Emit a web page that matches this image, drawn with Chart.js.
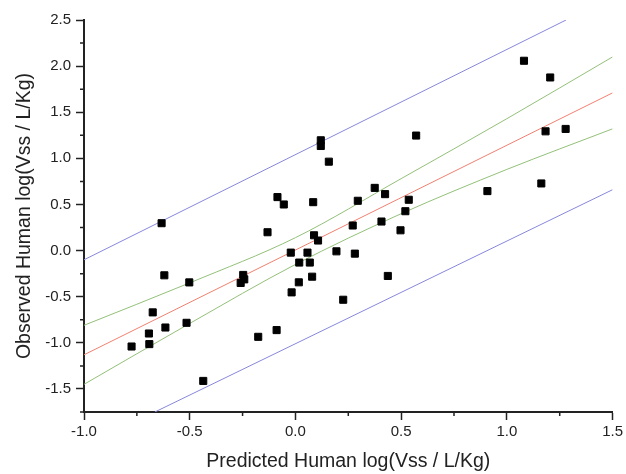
<!DOCTYPE html>
<html>
<head>
<meta charset="utf-8">
<script src="https://cdn.jsdelivr.net/npm/chart.js@4/dist/chart.umd.min.js"></script>
<style>
  html, body { margin: 0; padding: 0; background: #fff; }
  #wrap { width: 626px; height: 474px; }
</style>
</head>
<body>
<div id="wrap"><canvas id="vssChart"></canvas></div>
<script>
// Predicted vs observed log(Vss)
const predicted = [-0.775, -0.693, -0.691, -0.675, -0.62, -0.615, -0.502, -0.515, -0.436, -0.259,
  -0.247, -0.242, -0.176, -0.089, -0.132, -0.022, -0.018, 0.018, 0.016, 0.057,
  0.068, 0.079, 0.088, 0.107, -0.633, -0.085, -0.055, 0.084, 0.12, 0.12,
  0.158, 0.571, 1.081, 1.205, 1.183, 1.278, 0.908, 1.163, 0.295, 0.375,
  0.424, 0.536, 0.52, 0.271, 0.407, 0.497, 0.194, 0.281, 0.437, 0.226];
const observed = [-1.04, -0.899, -1.014, -0.67, -0.268, -0.834, -0.345, -0.783, -1.413, -0.351,
  -0.264, -0.312, -0.935, -0.862, 0.199, -0.022, -0.453, -0.13, -0.344, -0.022,
  -0.13, -0.283, 0.166, 0.109, 0.297, 0.58, 0.5, 0.525, 1.196, 1.134,
  0.964, 1.247, 2.058, 1.877, 1.293, 1.319, 0.645, 0.728, 0.54, 0.68,
  0.612, 0.551, 0.427, 0.272, 0.315, 0.22, -0.008, -0.033, -0.275, -0.533];

// regression line and prediction limits (end points)
const fitX = [-1.0, 1.5];
const fitY = [-1.13, 1.71];
const upperLimitX = [-1.0, 1.28];
const upperLimitY = [-0.10, 2.5];
const lowerLimitX = [-0.665, 1.5];
const lowerLimitY = [-1.75, 0.66];

// confidence band, read at these x positions
const bandX = [-1.0, -0.5, 0.0, 0.5, 1.0, 1.5];
const bandUpper = [-0.81, -0.35, 0.14, 0.78, 1.43, 2.10];
const bandLower = [-1.45, -0.79, -0.15, 0.40, 0.88, 1.32];

const xTicks = [-1.0, -0.5, 0.0, 0.5, 1.0, 1.5];
const yTicks = [-1.5, -1.0, -0.5, 0.0, 0.5, 1.0, 1.5, 2.0, 2.5];

const toPoints = (xs, ys) => xs.map((x, i) => ({ x: x, y: ys[i] }));
const isMajor = (list, v) => list.some(t => Math.abs(t - v) < 1e-6);

const lineSet = (data, color, smooth) => ({
  data: data,
  showLine: true,
  borderColor: color,
  borderWidth: 1,
  pointRadius: 0,
  fill: false,
  cubicInterpolationMode: smooth ? 'monotone' : 'default'
});

// short minor tick marks between the labelled ones
const minorTicks = {
  id: 'minorTicks',
  afterDraw(chart) {
    const ctx = chart.ctx;
    const xs = chart.scales.x, ys = chart.scales.y;
    ctx.save();
    ctx.strokeStyle = '#222';
    ctx.lineWidth = 1.5;
    ctx.beginPath();
    xs.ticks.forEach(t => {
      if (isMajor(xTicks, t.value)) return;
      const px = xs.getPixelForValue(t.value);
      ctx.moveTo(px, ys.bottom);
      ctx.lineTo(px, ys.bottom + 4);
    });
    ys.ticks.forEach(t => {
      if (isMajor(yTicks, t.value)) return;
      const py = ys.getPixelForValue(t.value);
      ctx.moveTo(xs.left, py);
      ctx.lineTo(xs.left - 4, py);
    });
    ctx.stroke();
    ctx.restore();
  }
};

Chart.defaults.font.family = '"Liberation Sans", Arial, sans-serif';
Chart.defaults.color = '#222';

new Chart(document.getElementById('vssChart'), {
  type: 'scatter',
  data: {
    datasets: [
      {
        data: toPoints(predicted, observed),
        pointStyle: 'rect',
        pointRadius: 5,
        backgroundColor: '#000',
        borderColor: '#000',
        borderWidth: 1
      },
      lineSet(toPoints(fitX, fitY), '#ef8070', false),
      lineSet(toPoints(bandX, bandUpper), '#93c079', true),
      lineSet(toPoints(bandX, bandLower), '#93c079', true),
      lineSet(toPoints(upperLimitX, upperLimitY), '#8787dc', false),
      lineSet(toPoints(lowerLimitX, lowerLimitY), '#8787dc', false)
    ]
  },
  options: {
    responsive: true,
    maintainAspectRatio: false,
    animation: false,
    layout: { padding: { left: 0, right: 13, top: 20, bottom: 0 } },
    plugins: {
      legend: { display: false },
      tooltip: { enabled: false }
    },
    scales: {
      x: {
        type: 'linear',
        min: -1.0,
        max: 1.5,
        afterFit: s => { s.height = 62; },
        border: { display: true, color: '#222', width: 2 },
        grid: {
          drawOnChartArea: false,
          tickLength: 8,
          tickWidth: 1.5,
          tickColor: c => isMajor(xTicks, c.tick.value) ? '#222' : 'rgba(0,0,0,0)'
        },
        ticks: {
          stepSize: 0.25,
          padding: 3,
          maxRotation: 0,
          autoSkip: false,
          font: { size: 15 },
          callback: v => isMajor(xTicks, v) ? v.toFixed(1) : ''
        },
        title: {
          display: true,
          text: 'Predicted Human log(Vss / L/Kg)',
          font: { size: 19.5 },
          padding: { top: 0, bottom: 1 }
        }
      },
      y: {
        type: 'linear',
        min: -1.75,
        max: 2.5,
        afterFit: s => { s.width = 84; },
        border: { display: true, color: '#222', width: 2 },
        grid: {
          drawOnChartArea: false,
          tickLength: 8,
          tickWidth: 1.5,
          tickColor: c => isMajor(yTicks, c.tick.value) ? '#222' : 'rgba(0,0,0,0)'
        },
        ticks: {
          stepSize: 0.25,
          padding: 5,
          autoSkip: false,
          font: { size: 15 },
          callback: v => isMajor(yTicks, v) ? v.toFixed(1) : ''
        },
        title: {
          display: true,
          text: 'Observed Human log(Vss / L/Kg)',
          font: { size: 19.5 },
          padding: { top: 13, bottom: 0 }
        }
      }
    }
  },
  plugins: [minorTicks]
});
</script>
</body>
</html>
